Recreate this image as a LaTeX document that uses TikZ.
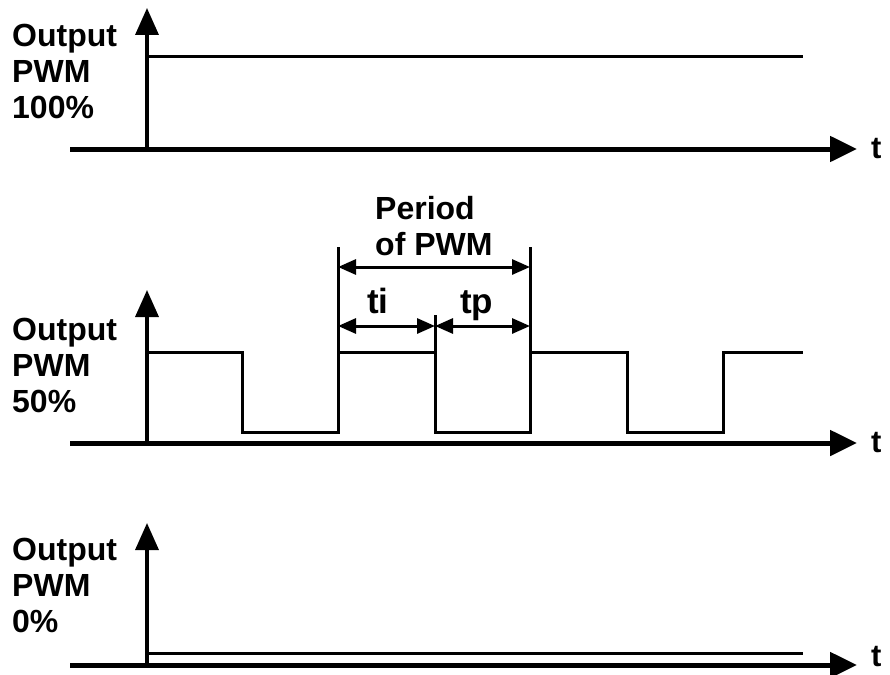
\documentclass[tikz,border=0pt]{standalone}
\usepackage{fontspec}
\setmainfont{Liberation Sans}
\usetikzlibrary{arrows.meta,positioning}

\begin{document}
\begin{tikzpicture}[x=1pt, y=-1pt,
    taxis/.style={line width=5pt, -{Triangle[length=27pt,width=25pt]}},
    vaxis/.style={line width=3.5pt, -{Triangle[length=27pt,width=23pt]}},
    signal/.style={line width=3pt, line join=miter},
    marker/.style={line width=3pt},
    dimarrow/.style={line width=3pt, {Triangle[length=18pt,width=15pt]}-{Triangle[length=18pt,width=15pt]}},
    lbl/.style={font=\fontsize{32}{36}\selectfont\bfseries, align=left, inner sep=0pt},
    tlbl/.style={font=\fontsize{31}{36}\selectfont\bfseries, inner sep=0pt},
    dimlbl/.style={font=\fontsize{35}{40}\selectfont\bfseries, inner sep=0pt}]
    \useasboundingbox (0,0) rectangle (890,674);

    % PWM 100%
    \coordinate (o1) at (147,149);
    \coordinate (e1) at (857,149);
    \draw[taxis] (70,149) -- (e1);
    \draw[vaxis] (o1) -- (147,8);
    \draw[signal] (147,57) -- (803,57);
    \node[lbl, anchor=north west] (out100) at (12,24) {Output\\PWM\\100\%};
    \node[tlbl, right=14pt of e1] (t1) {t};

    % PWM 50%
    \coordinate (o2) at (147,443);
    \coordinate (e2) at (857,443);
    \draw[taxis] (70,443) -- (e2);
    \draw[vaxis] (o2) -- (147,290);
    \draw[signal] (147,352) -- (242,352) -- (242,432) -- (338,432) -- (338,352)
        -- (435,352) -- (435,432) -- (530,432) -- (530,352) -- (627,352)
        -- (627,432) -- (723,432) -- (723,352) -- (803,352);
    \node[lbl, anchor=north west] (out50) at (12,318) {Output\\PWM\\50\%};
    \node[tlbl, right=14pt of e2] (t2) {t};

    % period markers
    \coordinate (pa) at (338,247);
    \coordinate (pb) at (435,315);
    \coordinate (pc) at (530,247);
    \draw[marker] (pa) -- (338,352);
    \draw[marker] (pb) -- (435,352);
    \draw[marker] (pc) -- (530,352);
    \draw[dimarrow] (338,267) -- (530,267);
    \draw[dimarrow] (338,326) -- (435,326);
    \draw[dimarrow] (435,326) -- (530,326);
    \node[lbl, anchor=north west] (period) at (375,196) {Period\\of PWM};
    \node[dimlbl, anchor=base west] (ti) at (367,313) {ti};
    \node[dimlbl, anchor=base west] (tp) at (460,313) {tp};

    % PWM 0%
    \coordinate (o3) at (147,665);
    \coordinate (e3) at (857,665);
    \draw[taxis] (70,665) -- (e3);
    \draw[vaxis] (o3) -- (147,523);
    \draw[signal] (147,653) -- (803,653);
    \node[lbl, anchor=north west] (out0) at (12,538) {Output\\PWM\\0\%};
    \node[tlbl, right=14pt of e3, yshift=8pt] (t3) {t};
\end{tikzpicture}
\end{document}
